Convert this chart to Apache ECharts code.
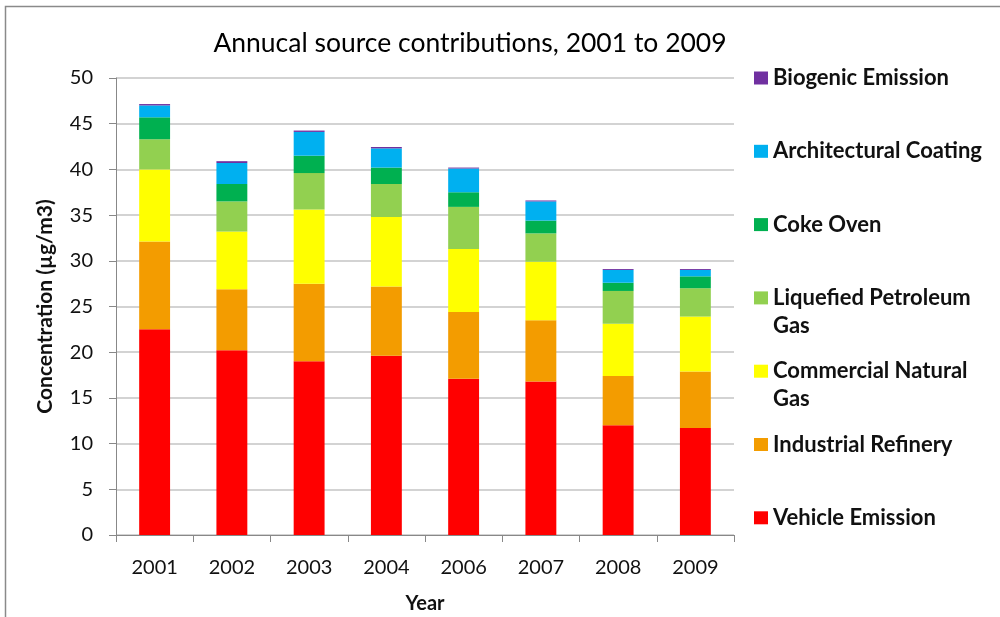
<!DOCTYPE html>
<html>
<head>
<meta charset="utf-8">
<script src="https://cdn.jsdelivr.net/npm/echarts@6/dist/echarts.min.js"></script>
<style>
  html, body { margin: 0; padding: 0; background: #fff; }
  #chart { width: 1000px; height: 617px; }
</style>
</head>
<body>
<div id="chart"></div>
<script>
// Annual source contributions (µg/m3), stacked by source
const years = ['2001', '2002', '2003', '2004', '2006', '2007', '2008', '2009'];

const vehicleEmission      = [22.5, 20.2, 19.0, 19.6, 17.1, 16.8, 12.0, 11.7];
const industrialRefinery   = [9.6, 6.7, 8.5, 7.6, 7.3, 6.7, 5.4, 6.2];
const commercialNaturalGas = [7.9, 6.3, 8.1, 7.6, 6.9, 6.4, 5.7, 6.0];
const liquefiedPetroleum   = [3.3, 3.3, 4.0, 3.6, 4.6, 3.1, 3.6, 3.1];
const cokeOven             = [2.4, 1.9, 1.9, 1.8, 1.6, 1.4, 0.9, 1.3];
const architecturalCoating = [1.3, 2.3, 2.6, 2.1, 2.6, 2.1, 1.4, 0.7];
const biogenicEmission     = [0.15, 0.2, 0.15, 0.15, 0.1, 0.1, 0.1, 0.1];

const yTicks = [0, 5, 10, 15, 20, 25, 30, 35, 40, 45, 50];

const sources = [
  { name: 'Vehicle Emission', lines: ['Vehicle Emission'], data: vehicleEmission, color: '#FF0000' },
  { name: 'Industrial Refinery', lines: ['Industrial Refinery'], data: industrialRefinery, color: '#F39C00' },
  { name: 'Commercial Natural Gas', lines: ['Commercial Natural', 'Gas'], data: commercialNaturalGas, color: '#FFFF00' },
  { name: 'Liquefied Petroleum Gas', lines: ['Liquefied Petroleum', 'Gas'], data: liquefiedPetroleum, color: '#92D050' },
  { name: 'Coke Oven', lines: ['Coke Oven'], data: cokeOven, color: '#00B050' },
  { name: 'Architectural Coating', lines: ['Architectural Coating'], data: architecturalCoating, color: '#00B0F0' },
  { name: 'Biogenic Emission', lines: ['Biogenic Emission'], data: biogenicEmission, color: '#7030A0' }
];

const FONT = 'Lato, "Open Sans", sans-serif';
const LINE_H = 28;
const LEGEND_FIRST_ROW = 78;
const LEGEND_ROW_STEP = 73.3;

// One legend block per source, listed top-down in reverse stacking order.
// Wrapped names get a blank leading line so the first line sits beside the swatch.
const legendOrder = sources.slice().reverse();
const legends = legendOrder.map((s, i) => {
  const twoLine = s.lines.length > 1;
  const text = twoLine ? '\u00a0\n' + s.lines.join('\n') : s.lines[0];
  const rowY = LEGEND_FIRST_ROW + i * LEGEND_ROW_STEP;
  return {
    data: [s.name],
    left: 749,
    top: rowY - 5 - (twoLine ? 1.5 * LINE_H : 0.5 * LINE_H),
    itemWidth: 14,
    itemHeight: 13,
    icon: 'rect',
    selectedMode: false,
    formatter: () => text,
    textStyle: {
      fontFamily: FONT,
      fontSize: 22,
      fontWeight: 'bold',
      color: '#111',
      lineHeight: LINE_H
    }
  };
});

const chart = echarts.init(document.getElementById('chart'), null, { renderer: 'canvas' });

chart.setOption({
  backgroundColor: '#fff',
  animation: false,
  title: {
    text: 'Annucal source contributions, 2001 to 2009',
    left: 465,
    top: 25,
    textAlign: 'center',
    textStyle: { fontFamily: FONT, fontSize: 26.5, fontWeight: 'normal', color: '#000' }
  },
  legend: legends,
  grid: { left: 116, right: 266, top: 78, bottom: 82, containLabel: false, outerBoundsMode: 'none' },
  xAxis: {
    type: 'category',
    data: years,
    name: 'Year',
    nameLocation: 'middle',
    nameGap: 59,
    nameTextStyle: { fontFamily: FONT, fontSize: 20, fontWeight: 'bold', color: '#111' },
    axisLine: { lineStyle: { color: '#888', width: 1 } },
    axisTick: { show: true, length: 7, lineStyle: { color: '#888' } },
    axisLabel: { fontFamily: FONT, fontSize: 20, color: '#111', margin: 23 }
  },
  yAxis: {
    type: 'value',
    min: yTicks[0],
    max: yTicks[yTicks.length - 1],
    interval: yTicks[1] - yTicks[0],
    name: 'Concentration (µg/m3)',
    nameLocation: 'middle',
    nameRotate: 90,
    nameGap: 60,
    nameTextStyle: { fontFamily: FONT, fontSize: 21, fontWeight: 'bold', color: '#111' },
    axisLine: { show: true, lineStyle: { color: '#888', width: 1 } },
    axisTick: { show: true, length: 7, lineStyle: { color: '#888' } },
    axisLabel: { fontFamily: FONT, fontSize: 20, color: '#111', margin: 23 },
    splitLine: { show: true, lineStyle: { color: '#c4c4c4', width: 1.5 } }
  },
  series: sources.map(s => ({
    name: s.name,
    type: 'bar',
    stack: 'total',
    barWidth: '40%',
    data: s.data,
    itemStyle: { color: s.color }
  })),
  graphic: [
    {
      type: 'rect',
      shape: { x: 5.5, y: 6.5, width: 1000, height: 620 },
      style: { fill: 'none', stroke: '#8a8a8a', lineWidth: 1.5 },
      silent: true
    }
  ]
});
</script>
</body>
</html>
